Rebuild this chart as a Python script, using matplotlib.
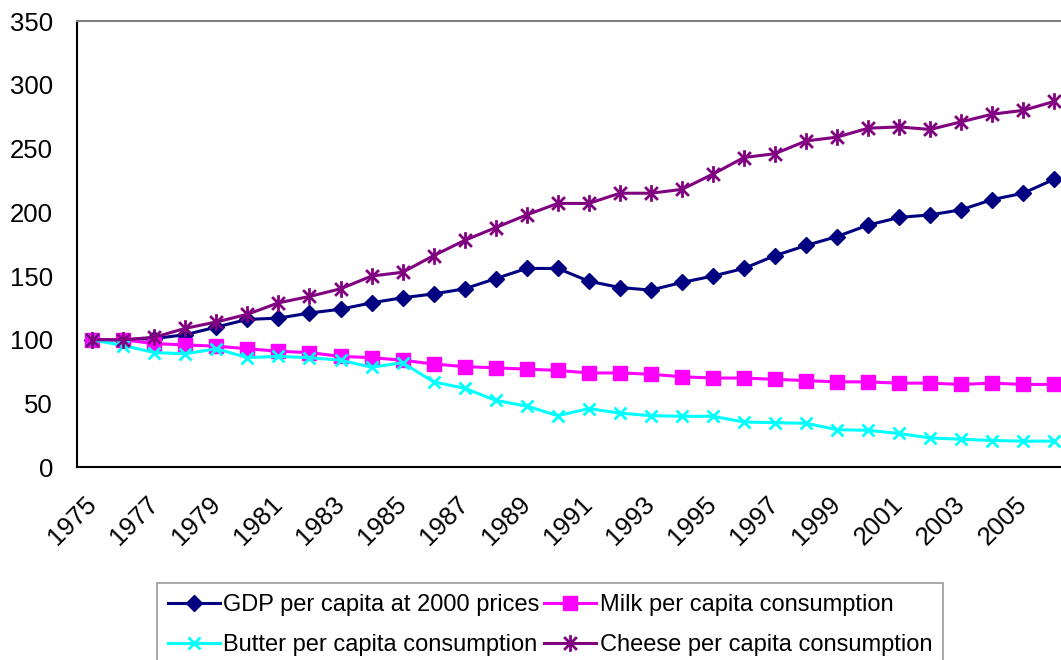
import matplotlib
matplotlib.use('Agg')
import matplotlib.pyplot as plt
from matplotlib.path import Path

plt.rcParams['font.family'] = ['Liberation Sans', 'DejaVu Sans']

years = list(range(1975, 2007))
gdp = [100, 100, 101, 104, 110, 116, 117, 121, 124, 129, 133, 136, 140, 148, 156, 156,
       146, 141, 139, 145, 150, 156, 166, 174, 181, 190, 196, 198, 202, 210, 215, 226]
milk = [100, 100, 97, 96, 95, 93, 91, 90, 87, 86, 84, 81, 79, 78, 77, 76,
        74, 74, 73, 71, 70, 70, 69, 68, 67, 67, 66, 66, 65, 66, 65, 65]
butter = [100, 95.5, 90, 89, 93, 86, 87, 86, 84, 78.5, 82, 67, 62, 52.5, 48, 40.5,
          46, 42.5, 40.5, 40, 40, 35.5, 35, 34.5, 29.5, 29, 26.5, 23, 22, 21, 20.5, 20.5]
cheese = [100, 100, 102, 109, 114, 120, 129, 134, 140, 150, 153, 166, 178, 188, 198, 207,
          207, 215, 215, 218, 230, 243, 246, 256, 259, 266, 267, 265, 271, 277, 280, 287]

labels = ['GDP per capita at 2000 prices', 'Milk per capita consumption',
          'Butter per capita consumption', 'Cheese per capita consumption']

# excel style star: an x with a vertical bar through it
star = Path([(-1, -1), (1, 1), (-1, 1), (1, -1), (0, -1.3), (0, 1.3)],
            [Path.MOVETO, Path.LINETO, Path.MOVETO, Path.LINETO, Path.MOVETO, Path.LINETO])

fig = plt.figure(figsize=(10.61, 6.6), dpi=100)
ax = fig.add_axes([0.0723, 0.292, 0.936, 0.676])

x = list(range(len(years)))
l_gdp, = ax.plot(x, gdp, color='#000080', lw=2.2, marker='D', ms=8, label=labels[0])
l_milk, = ax.plot(x, milk, color='#FF00FF', lw=2.2, marker='s', ms=10, label=labels[1])
l_butter, = ax.plot(x, butter, color='#00FFFF', lw=2.2, marker='x', ms=9, mew=2, label=labels[2])
l_cheese, = ax.plot(x, cheese, color='#800080', lw=2.2, marker=star, ms=12, mew=2,
                    mfc='none', label=labels[3])

ax.set_xlim(-0.5, len(years) - 0.5)
ax.set_ylim(0, 350)
ax.set_yticks(range(0, 351, 50))
ax.set_xticks(x[::2], labels=[str(y) for y in years[::2]],
              rotation=45, ha='right', va='center', rotation_mode='anchor')
ax.tick_params(axis='y', length=0, pad=17, labelsize=18.5)
ax.tick_params(axis='x', length=0, pad=24, labelsize=18.5)

for side in ['left', 'bottom']:
    ax.spines[side].set_color('black')
    ax.spines[side].set_linewidth(1.5)
ax.spines['top'].set_color('#808080')
ax.spines['top'].set_linewidth(1.5)
ax.spines['right'].set_visible(False)

# legend fills row-wise in the original: GDP, Milk / Butter, Cheese
handles = [l_gdp, l_butter, l_milk, l_cheese]
leg = fig.legend(handles=handles, labels=[h.get_label() for h in handles],
                 loc='upper left', bbox_to_anchor=(0.148, 0.116), ncol=2,
                 fontsize=17, frameon=True, fancybox=False, edgecolor='#808080',
                 handlelength=2.2, handletextpad=0.15, columnspacing=0.2,
                 borderpad=0.45, labelspacing=0.75, borderaxespad=0)
leg.get_frame().set_linewidth(1.2)

fig.savefig('out.png', dpi=100)
